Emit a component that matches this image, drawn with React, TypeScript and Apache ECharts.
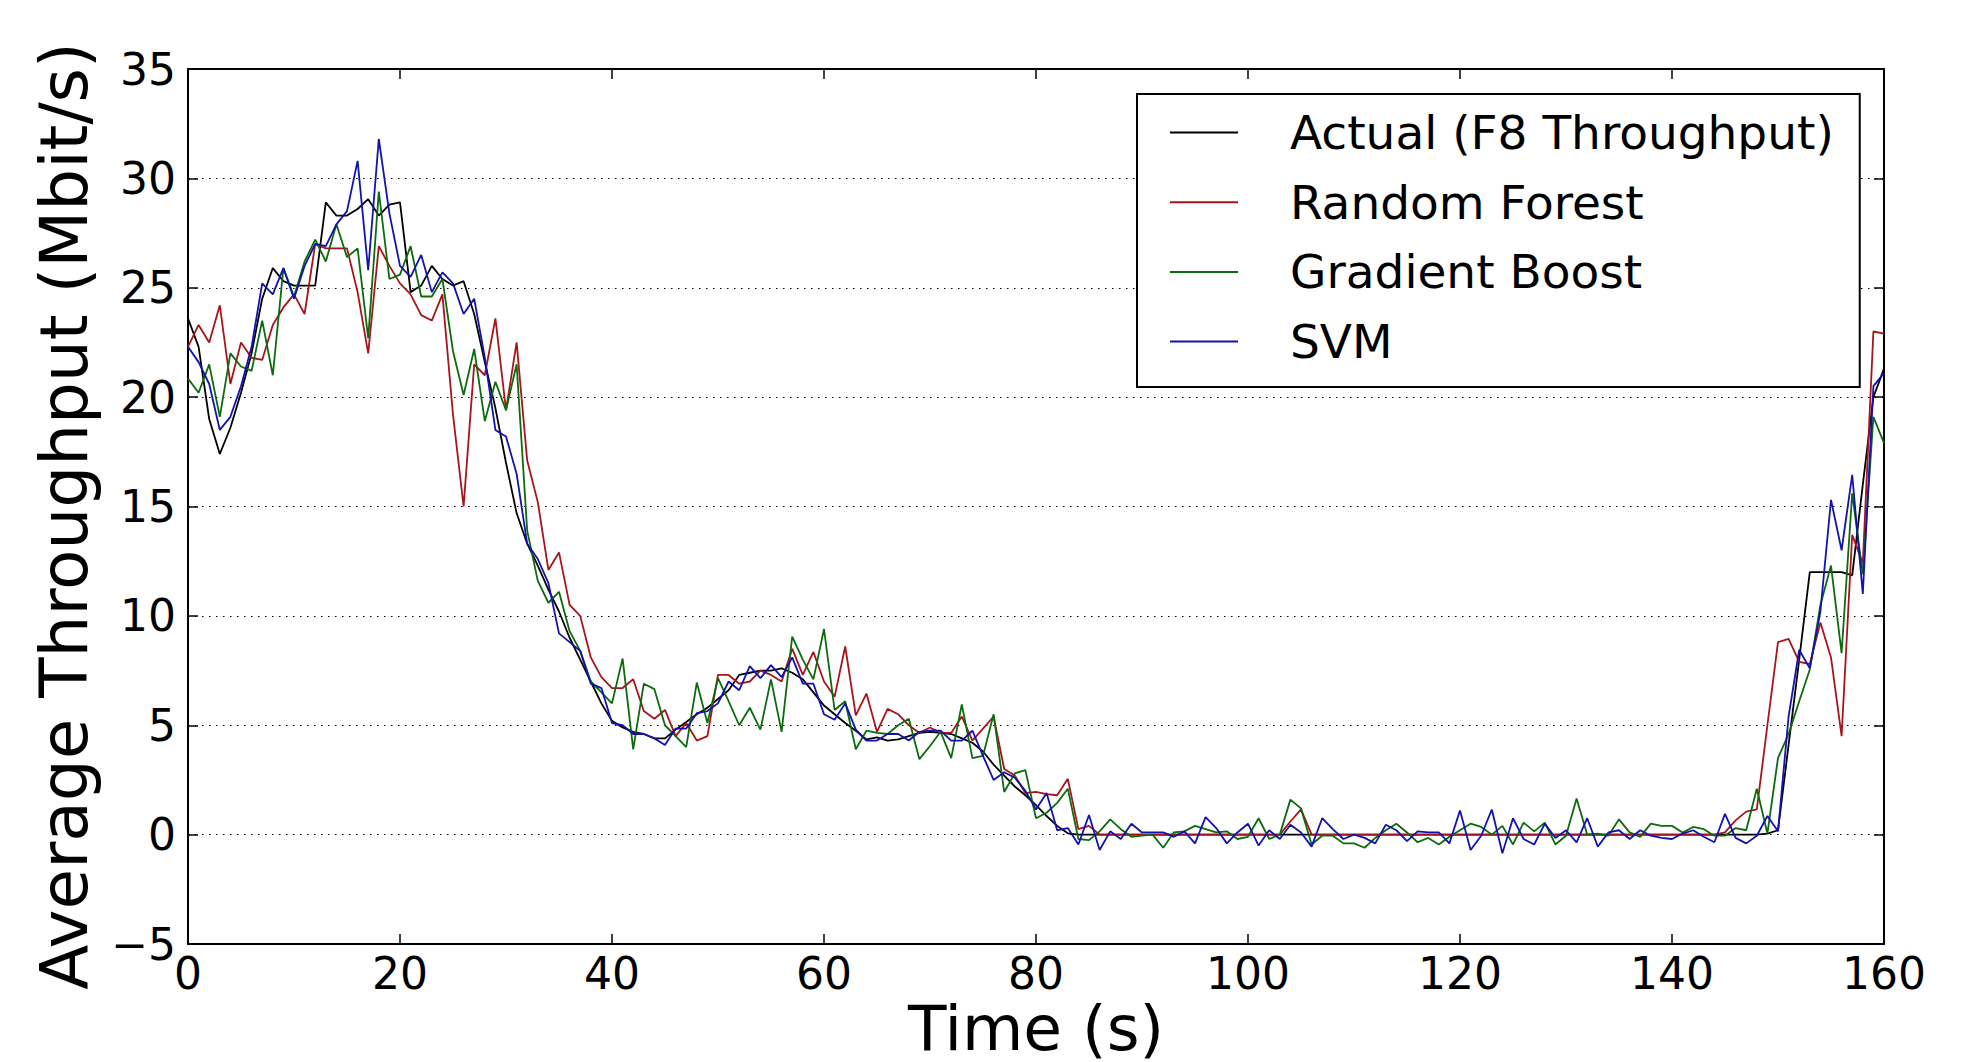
import React, { useEffect, useRef } from 'react';
import * as echarts from 'echarts';

// time axis: one sample per second, starting at 0 s
const TIME_START = 0;
const TIME_STEP = 1;

const X_MIN = 0;
const X_MAX = 160;
const X_INTERVAL = 20;
const Y_MIN = -5;
const Y_MAX = 35;
const Y_INTERVAL = 5;

const SERIES_NAMES = ['Actual (F8 Throughput)', 'Random Forest', 'Gradient Boost', 'SVM'];
const SERIES_COLORS = ['#000000', '#a8141b', '#0c6b0c', '#1212b0'];

const ACTUAL = [
  23.6, 22.3, 19.0, 17.4, 18.6, 20.2, 22.0, 24.5, 25.9, 25.3,
  25.1, 25.1, 25.1, 28.9, 28.3, 28.3, 28.6, 29.05, 28.3, 28.8,
  28.9, 24.8, 25.1, 26.0, 25.4, 25.1, 25.3, 23.8, 21.6, 19.5,
  17.0, 14.7, 13.3, 12.3, 11.2, 10.2, 9.0, 8.0, 7.0, 6.0,
  5.2, 4.9, 4.7, 4.6, 4.4, 4.4, 4.8, 5.15, 5.5, 5.8,
  6.2, 6.6, 7.3, 7.4, 7.5, 7.5, 7.6, 7.4, 7.1, 6.5,
  5.9, 5.5, 5.1, 4.75, 4.35, 4.45, 4.3, 4.35, 4.5, 4.65,
  4.7, 4.65, 4.6, 4.4, 4.2, 3.8, 3.2, 2.7, 2.2, 1.8,
  1.35, 0.85, 0.4, 0.06, 0, 0, 0, 0, 0, 0,
  0, 0, 0, 0, 0, 0, 0, 0, 0, 0,
  0, 0, 0, 0, 0, 0, 0, 0, 0, 0,
  0, 0, 0, 0, 0, 0, 0, 0, 0, 0,
  0, 0, 0, 0, 0, 0, 0, 0, 0, 0,
  0, 0, 0, 0, 0, 0, 0, 0, 0, 0,
  0, 0, 0, 0, 0, 0, 0, 0, 0, 0.05,
  0.2, 4.1, 8.0, 12.0, 12.0, 12.0, 12.0, 11.85, 16.0, 20.0,
  21.3,
];

const RANDOM_FOREST = [
  22.3, 23.3, 22.5, 24.2, 20.6, 22.5, 21.8, 21.7, 23.3, 24.1,
  24.7, 23.8, 27.0, 26.8, 26.8, 26.8, 24.8, 22.0, 26.9, 26.0,
  25.2, 24.7, 23.75, 23.5, 24.7, 19.2, 15.0, 21.5, 21.0, 23.6,
  19.4, 22.5, 17.1, 15.2, 12.1, 12.9, 10.5, 10.0, 8.1, 7.2,
  6.7, 6.7, 7.1, 5.65, 5.3, 5.7, 4.5, 5.1, 4.3, 4.5,
  7.3, 7.3, 6.9, 7.0, 7.5, 7.3, 7.0, 8.5, 7.3, 8.35,
  7.0, 6.3, 8.6, 5.45, 6.45, 4.7, 5.75, 5.5, 5.0, 4.65,
  4.9, 4.65, 4.65, 5.4, 4.3, 4.85, 5.4, 3.0, 2.7, 1.9,
  1.95, 1.85, 1.8, 2.55, 0.25, 0.4, 0, 0, 0, 0,
  0, 0, 0, 0, 0, 0, 0, 0, 0, 0,
  0, 0, 0, 0, 0.6, 1.15, 0, 0, 0, 0,
  0, 0, 0, 0, 0, 0, 0, 0, 0, 0,
  0, 0, 0, 0, 0, 0, 0, 0, 0, 0,
  0, 0, 0, 0, 0, 0, 0, 0, 0, 0,
  0, 0, 0, 0, 0, 0.1, 0.65, 1.05, 1.15, 5.0,
  8.8, 8.95, 7.9, 7.8, 9.7, 8.1, 4.5, 13.7, 12.4, 23.0,
  22.9,
];

const GRADIENT_BOOST = [
  20.85, 20.2, 21.5, 19.1, 22.0, 21.4, 21.2, 23.5, 21.0, 25.9,
  24.6, 26.2, 27.2, 26.2, 27.9, 26.4, 26.8, 22.7, 29.4, 25.4,
  25.6, 26.9, 24.6, 24.6, 25.4, 22.1, 20.1, 22.2, 18.9, 20.7,
  19.4, 21.5, 13.9, 11.6, 10.6, 11.1, 9.3, 8.4, 7.0, 6.5,
  6.0, 8.05, 3.9, 6.9, 6.65, 5.0, 4.5, 4.0, 6.95, 5.1,
  7.15, 6.1, 5.0, 5.8, 4.8, 7.1, 4.7, 9.05, 8.0, 7.1,
  9.4, 5.7, 6.1, 3.9, 4.75, 4.65, 4.6, 5.0, 5.3, 3.45,
  4.05, 4.7, 3.5, 5.95, 3.5, 3.6, 5.5, 1.95, 2.8, 2.95,
  0.75, 1.0, 1.45, 2.1, -0.2, -0.25, 0.15, 0.7, 0.25, -0.1,
  -0.05, 0, -0.6, 0.1, 0.15, 0.4, 0.25, 0.1, 0.15, -0.2,
  -0.1, 0.75, -0.2, 0, 1.6, 1.2, -0.45, -0.05, -0.05, -0.4,
  -0.4, -0.6, -0.15, 0.2, 0.5, 0.1, -0.35, -0.15, -0.45, -0.1,
  0.2, 0.5, 0.35, 0, 0.4, -0.45, 0.55, 0.15, 0.55, -0.45,
  -0.05, 1.65, 0.0, 0.05, -0.05, 0.7, 0.1, -0.1, 0.5, 0.4,
  0.4, 0.1, 0.35, 0.25, -0.05, -0.05, 0.3, 0.2, 2.1, 0.05,
  3.5, 4.6, 6.1, 7.55, 10.5, 12.3, 8.3, 15.6, 11.9, 19.1,
  17.9,
];

const SVM = [
  22.3, 21.6, 20.6, 18.5, 19.1, 20.5, 22.3, 25.2, 24.7, 25.9,
  24.5, 26.0, 27.0, 26.9, 27.9, 28.5, 30.8, 25.8, 31.8, 28.4,
  26.0, 25.5, 26.5, 24.8, 25.7, 25.2, 23.8, 24.5, 21.8, 18.5,
  18.2, 16.5, 13.3, 12.6, 11.5, 9.2, 8.8, 8.4, 6.9, 6.7,
  5.1, 5.0, 4.6, 4.6, 4.4, 4.1, 4.85, 4.85, 5.55, 5.65,
  6.0, 7.0, 6.6, 7.7, 7.15, 7.75, 7.2, 8.1, 6.9, 6.9,
  5.5, 5.25, 6.0, 4.8, 4.3, 4.3, 4.6, 4.6, 4.3, 4.7,
  4.75, 4.75, 4.3, 4.3, 4.75, 3.6, 2.5, 2.85, 2.6, 2.0,
  1.15, 1.9, 0.2, 0.3, -0.45, 0.9, -0.7, 0.15, -0.2, 0.5,
  0.1, 0.1, 0.1, -0.1, 0.15, -0.4, 0.8, 0.3, -0.4, 0.1,
  0.5, -0.5, 0.2, -0.2, 0.45, 0.1, -0.55, 0.75, 0.25, -0.2,
  0, -0.15, -0.4, 0.45, 0.2, -0.3, 0.15, 0.1, 0.1, -0.4,
  1.1, -0.7, -0.05, 1.15, -0.85, 0.75, -0.2, -0.45, 0.5, -0.15,
  0.2, -0.35, 0.75, -0.55, 0.1, 0.2, -0.2, 0.2, -0.05, -0.15,
  -0.2, 0.05, 0.2, -0.1, -0.35, 0.95, -0.15, -0.4, -0.05, 0.85,
  0.15, 5.4, 8.45, 7.6, 10.2, 15.3, 13.0, 16.45, 11.0, 20.5,
  21.1,
];

const SERIES_VALUES = [ACTUAL, RANDOM_FOREST, GRADIENT_BOOST, SVM];

const X_TITLE = 'Time (s)';
const Y_TITLE = 'Average Throughput (Mbit/s)';

export default function App() {
  const ref = useRef<HTMLDivElement>(null);

  useEffect(() => {
    document.body.style.margin = '0';
    const chart = echarts.init(ref.current as HTMLDivElement, null, { renderer: 'svg' });
    const FONT = 'DejaVu Sans';
    const toPairs = (arr: number[]) => arr.map((v, i) => [TIME_START + i * TIME_STEP, v]);
    const minus = (v: number) => String(v).replace('-', '\u2212');
    const tick = { show: true, inside: true, length: 10, lineStyle: { color: '#000', width: 1.5 } };
    const axisLine = { show: true, onZero: false, lineStyle: { color: '#000', width: 2 } };

    chart.setOption({
      animation: false,
      backgroundColor: '#fff',
      grid: { left: 188, right: 85, top: 69, bottom: 118, containLabel: false },
      xAxis: [
        {
          type: 'value', min: X_MIN, max: X_MAX, interval: X_INTERVAL, position: 'bottom',
          axisLine, axisTick: tick,
          axisLabel: { fontFamily: FONT, fontSize: 44, color: '#000', margin: 6, lineHeight: 46 },
          splitLine: { show: false },
        },
        {
          type: 'value', min: X_MIN, max: X_MAX, interval: X_INTERVAL, position: 'top',
          axisLine, axisTick: tick, axisLabel: { show: false }, splitLine: { show: false },
        },
      ],
      yAxis: [
        {
          type: 'value', min: Y_MIN, max: Y_MAX, interval: Y_INTERVAL, position: 'left',
          axisLine, axisTick: tick,
          axisLabel: { fontFamily: FONT, fontSize: 44, color: '#000', margin: 12, formatter: minus },
          splitLine: { show: true, lineStyle: { color: '#000', width: 1, type: [1.5, 5.5] } },
        },
        {
          type: 'value', min: Y_MIN, max: Y_MAX, interval: Y_INTERVAL, position: 'right',
          axisLine, axisTick: tick, axisLabel: { show: false }, splitLine: { show: false },
        },
      ],
      legend: {
        orient: 'vertical',
        left: 1137,
        top: 94,
        padding: [15, 26, 22, 33],
        itemWidth: 68,
        itemHeight: 2,
        itemGap: 22.7,
        icon: 'rect',
        backgroundColor: '#fff',
        borderColor: '#000',
        borderWidth: 2,
        borderRadius: 0,
        selectedMode: false,
        textStyle: { fontFamily: FONT, fontSize: 47, color: '#000', lineHeight: 47, padding: [0, 0, 0, 47] },
        data: SERIES_NAMES,
      },
      graphic: [
        {
          type: 'text', x: 64, y: 516, rotation: Math.PI / 2,
          style: { text: Y_TITLE, fontFamily: FONT, fontSize: 66, lineHeight: 60, fill: '#000', align: 'center', verticalAlign: 'middle' },
        },
        {
          type: 'text', x: 1036, y: 1028,
          style: { text: X_TITLE, fontFamily: FONT, fontSize: 63, lineHeight: 54, fill: '#000', align: 'center', verticalAlign: 'middle' },
        },
      ],
      series: SERIES_NAMES.map((name, k) => ({
        name,
        type: 'line',
        xAxisIndex: 0,
        yAxisIndex: 0,
        data: toPairs(SERIES_VALUES[k]),
        showSymbol: false,
        symbol: 'none',
        color: SERIES_COLORS[k],
        itemStyle: { color: SERIES_COLORS[k] },
        lineStyle: { color: SERIES_COLORS[k], width: 1.8 },
      })),
    });

    return () => chart.dispose();
  }, []);

  return <div ref={ref} style={{ width: 1969, height: 1062 }} />;
}
